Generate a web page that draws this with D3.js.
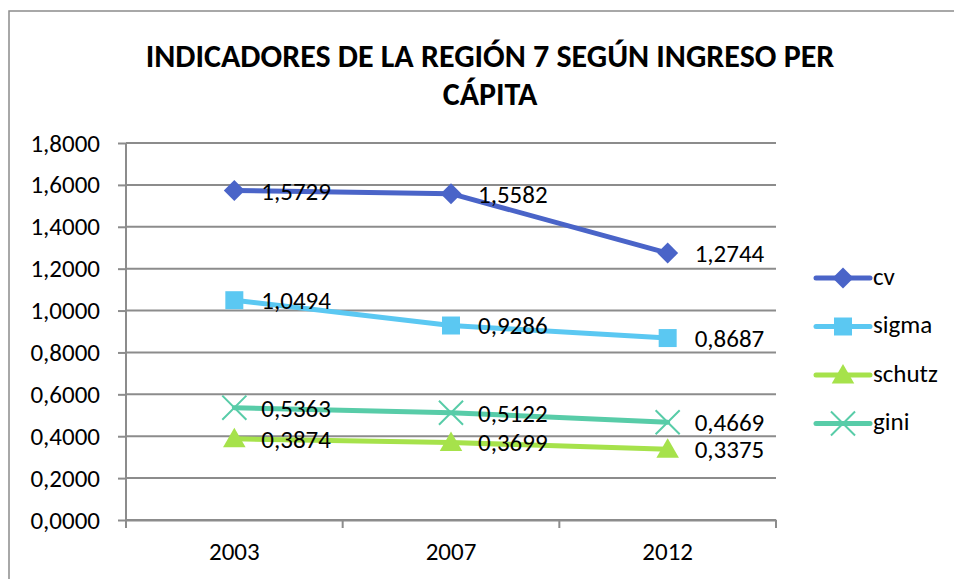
<!DOCTYPE html>
<html lang="es">
<head>
<meta charset="utf-8">
<title>Indicadores de la Región 7</title>
<script src="https://cdn.jsdelivr.net/npm/d3@7"></script>
<style>
    body { margin: 0; background: #fff; }
    svg text { font-family: Carlito, Lato, sans-serif; fill: #000; }
    .title { font-weight: bold; font-size: 32px; }
    .tick-label { font-size: 25px; }
    .data-label { font-size: 25px; }
    .legend text { font-size: 25px; }
</style>
</head>
<body>
<script>
    const categories = ["2003", "2007", "2012"];
    const cv = [1.5729, 1.5582, 1.2744];
    const sigma = [1.0494, 0.9286, 0.8687];
    const schutz = [0.3874, 0.3699, 0.3375];
    const gini = [0.5363, 0.5122, 0.4669];
    const yTicks = [0, 0.2, 0.4, 0.6, 0.8, 1.0, 1.2, 1.4, 1.6, 1.8];

    const series = [
        { name: "cv", values: cv, color: "#4a64c8", shape: "diamond" },
        { name: "sigma", values: sigma, color: "#5bc8f2", shape: "square" },
        { name: "schutz", values: schutz, color: "#a6e24b", shape: "triangle" },
        { name: "gini", values: gini, color: "#58cca8", shape: "x" }
    ];

    const width = 954, height = 579;
    const plotLeft = 126, plotRight = 776, plotTop = 143, plotBottom = 520;
    const gridColor = "#8c8c8c";

    const fmt = v => v.toFixed(4).replace(".", ",");

    const x = d3.scaleBand().domain(categories).range([plotLeft, plotRight]);
    const y = d3.scaleLinear().domain([0, 1.8]).range([plotBottom, plotTop]);

    const svg = d3.select("body").append("svg")
        .attr("width", width)
        .attr("height", height);

    // outer chart border
    svg.append("rect")
        .attr("x", 9).attr("y", 11)
        .attr("width", 1000).attr("height", 700)
        .attr("fill", "#fff")
        .attr("stroke", "#8c8c8c")
        .attr("stroke-width", 1.5);

    // title
    const title = svg.append("text")
        .attr("class", "title")
        .attr("text-anchor", "middle");
    title.append("tspan").attr("x", 490).attr("y", 67)
        .text("INDICADORES DE LA REGIÓN 7 SEGÚN INGRESO PER");
    title.append("tspan").attr("x", 490).attr("y", 105)
        .text("CÁPITA");

    // gridlines + y axis
    const yAxis = d3.axisLeft(y)
        .tickValues(yTicks)
        .tickFormat(fmt)
        .tickSize(8)
        .tickPadding(18);
    const gy = svg.append("g")
        .attr("transform", `translate(${plotLeft},0)`)
        .call(yAxis);
    gy.select(".domain").remove();
    gy.selectAll(".tick line").attr("stroke", gridColor).attr("stroke-width", 2);
    gy.selectAll(".tick text").attr("class", "tick-label").attr("font-size", null)
        .attr("font-family", null);

    svg.append("g")
        .selectAll("line")
        .data(yTicks)
        .join("line")
        .attr("x1", plotLeft).attr("x2", plotRight)
        .attr("y1", d => y(d)).attr("y2", d => y(d))
        .attr("stroke", gridColor)
        .attr("stroke-width", 2);

    svg.append("line")
        .attr("x1", plotLeft).attr("x2", plotLeft)
        .attr("y1", plotTop).attr("y2", plotBottom + 8)
        .attr("stroke", gridColor).attr("stroke-width", 2);

    // x axis
    const xAxis = d3.axisBottom(x).tickSize(0).tickPadding(22);
    const gx = svg.append("g")
        .attr("transform", `translate(0,${plotBottom})`)
        .call(xAxis);
    gx.select(".domain").attr("stroke", gridColor).attr("stroke-width", 2);
    gx.selectAll(".tick text").attr("class", "tick-label").attr("font-size", null)
        .attr("font-family", null);
    gx.selectAll(".boundary")
        .data(categories)
        .join("line")
        .attr("x1", d => x(d) + x.bandwidth())
        .attr("x2", d => x(d) + x.bandwidth())
        .attr("y1", 0).attr("y2", 8)
        .attr("stroke", gridColor).attr("stroke-width", 2);

    // markers
    const symbolFor = shape => {
        if (shape === "diamond") return d3.symbol(d3.symbolSquare, 220)();
        if (shape === "square") return d3.symbol(d3.symbolSquare, 324)();
        if (shape === "triangle") return d3.symbol(d3.symbolTriangle, 220)();
        return d3.symbol(d3.symbolX, 380)();
    };
    const drawMarker = (g, s, cx, cy) => {
        const p = g.append("path")
            .attr("d", symbolFor(s.shape))
            .attr("transform", `translate(${cx},${cy})` + (s.shape === "diamond" ? " rotate(45)" : "") +
                (s.shape === "triangle" ? " translate(0,2)" : ""));
        if (s.shape === "x") {
            p.attr("fill", "none").attr("stroke", s.color).attr("stroke-width", 2);
        } else {
            p.attr("fill", s.color);
        }
    };

    const line = d3.line()
        .x((d, i) => x(categories[i]) + x.bandwidth() / 2)
        .y(d => y(d));

    const order = [series[2], series[3], series[1], series[0]];
    order.forEach(s => {
        const g = svg.append("g");
        g.append("path")
            .datum(s.values)
            .attr("d", line)
            .attr("fill", "none")
            .attr("stroke", s.color)
            .attr("stroke-width", 5)
            .attr("stroke-linejoin", "round")
            .attr("stroke-linecap", "round");
        s.values.forEach((v, i) => {
            drawMarker(g, s, x(categories[i]) + x.bandwidth() / 2, y(v));
        });
    });

    // data labels
    series.forEach(s => {
        svg.append("g")
            .selectAll("text")
            .data(s.values)
            .join("text")
            .attr("class", "data-label")
            .attr("x", (d, i) => x(categories[i]) + x.bandwidth() / 2 + 27)
            .attr("y", d => y(d) + 3)
            .attr("dominant-baseline", "middle")
            .text(fmt);
    });

    // legend
    const legend = svg.append("g").attr("class", "legend");
    series.forEach((s, i) => {
        const ly = 278 + i * 48.5;
        const g = legend.append("g");
        g.append("line")
            .attr("x1", 816).attr("x2", 870)
            .attr("y1", ly).attr("y2", ly)
            .attr("stroke", s.color)
            .attr("stroke-width", 5)
            .attr("stroke-linecap", "round");
        drawMarker(g, s, 843, ly);
        g.append("text")
            .attr("x", 873)
            .attr("y", ly + 1)
            .attr("dominant-baseline", "middle")
            .text(s.name);
    });
</script>
</body>
</html>
